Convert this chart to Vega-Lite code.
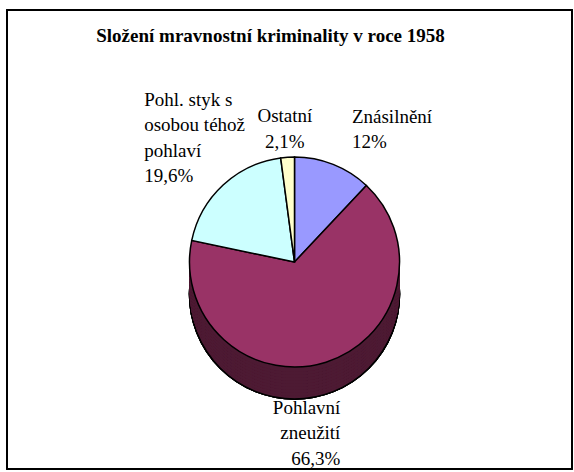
{
  "$schema": "https://vega.github.io/schema/vega-lite/v6.json",
  "width": 565,
  "height": 459,
  "autosize": {"type": "none"},
  "padding": {"left": 7, "top": 10, "right": 2, "bottom": 3},
  "background": "white",
  "title": {
    "text": "Složení mravnostní kriminality v roce 1958",
    "font": "Liberation Serif",
    "fontSize": 19,
    "fontWeight": "bold",
    "color": "black",
    "anchor": "middle",
    "frame": "group",
    "baseline": "middle",
    "offset": -46,
    "dx": -19
  },
  "data": {
    "values": [
      {"category": "Znásilnění", "value": 12, "order": 1, "label": "Znásilnění\n12%"},
      {"category": "Pohlavní zneužití", "value": 66.3, "order": 2, "label": "Pohlavní\nzneužití\n66,3%"},
      {"category": "Pohl. styk s osobou téhož pohlaví", "value": 19.6, "order": 3, "label": "Pohl. styk s\nosobou téhož\npohlaví\n19,6%"},
      {"category": "Ostatní", "value": 2.1, "order": 4, "label": "Ostatní\n2,1%"}
    ]
  },
  "layer": [
    {"mark": {"type": "rect", "fill": null, "fillOpacity": 0, "stroke": "black", "strokeWidth": 1.5}, "encoding": {}},
    {"mark": {"type": "arc", "outerRadius": 105, "theta": 0, "theta2": 6.2832, "fill": "#4d1a33", "stroke": "black", "strokeWidth": 1.5, "xOffset": 5, "yOffset": 54.5}, "encoding": {}},
    {"mark": {"type": "arc", "outerRadius": 105, "theta": 0, "theta2": 6.2832, "fill": "#4d1a33", "xOffset": 5, "yOffset": 51.5}, "encoding": {}},
    {"mark": {"type": "arc", "outerRadius": 105, "theta": 0, "theta2": 6.2832, "fill": "#4d1a33", "xOffset": 5, "yOffset": 48.5}, "encoding": {}},
    {"mark": {"type": "arc", "outerRadius": 105, "theta": 0, "theta2": 6.2832, "fill": "#4d1a33", "xOffset": 5, "yOffset": 45.5}, "encoding": {}},
    {"mark": {"type": "arc", "outerRadius": 105, "theta": 0, "theta2": 6.2832, "fill": "#4d1a33", "xOffset": 5, "yOffset": 42.5}, "encoding": {}},
    {"mark": {"type": "arc", "outerRadius": 105, "theta": 0, "theta2": 6.2832, "fill": "#4d1a33", "xOffset": 5, "yOffset": 39.5}, "encoding": {}},
    {"mark": {"type": "arc", "outerRadius": 105, "theta": 0, "theta2": 6.2832, "fill": "#4d1a33", "xOffset": 5, "yOffset": 36.5}, "encoding": {}},
    {"mark": {"type": "arc", "outerRadius": 105, "theta": 0, "theta2": 6.2832, "fill": "#4d1a33", "xOffset": 5, "yOffset": 33.5}, "encoding": {}},
    {"mark": {"type": "arc", "outerRadius": 105, "theta": 0, "theta2": 6.2832, "fill": "#4d1a33", "xOffset": 5, "yOffset": 30.5}, "encoding": {}},
    {"mark": {"type": "arc", "outerRadius": 105, "theta": 0, "theta2": 6.2832, "fill": "#4d1a33", "xOffset": 5, "yOffset": 27.5}, "encoding": {}},
    {
      "mark": {"type": "arc", "outerRadius": 105, "stroke": "black", "strokeWidth": 1.5, "xOffset": 5, "yOffset": 22.5},
      "encoding": {
        "theta": {"field": "value", "type": "quantitative", "stack": true},
        "order": {"field": "order", "type": "quantitative"},
        "color": {
          "field": "category",
          "type": "nominal",
          "scale": {
            "domain": ["Znásilnění", "Pohlavní zneužití", "Pohl. styk s osobou téhož pohlaví", "Ostatní"],
            "range": ["#9999ff", "#993366", "#ccffff", "#ffffcc"]
          },
          "legend": null
        }
      }
    },
    {
      "mark": {"type": "text", "radius": 156, "xOffset": 5, "yOffset": 22.5, "font": "Liberation Serif", "fontSize": 19, "color": "black", "lineBreak": "\n", "lineHeight": 25.5, "align": "left", "baseline": "middle"},
      "encoding": {
        "theta": {"field": "value", "type": "quantitative", "stack": true},
        "order": {"field": "order", "type": "quantitative"},
        "text": {"condition": {"test": "datum.order == 1", "field": "label"}, "value": ""}
      }
    },
    {
      "mark": {"type": "text", "radius": 153, "xOffset": 5, "yOffset": 22.5, "font": "Liberation Serif", "fontSize": 19, "color": "black", "lineBreak": "\n", "lineHeight": 25.5, "align": "right", "baseline": "middle"},
      "encoding": {
        "theta": {"field": "value", "type": "quantitative", "stack": true},
        "order": {"field": "order", "type": "quantitative"},
        "text": {"condition": {"test": "datum.order == 2", "field": "label"}, "value": ""}
      }
    },
    {
      "mark": {"type": "text", "radius": 221, "xOffset": 5, "yOffset": 22.5, "font": "Liberation Serif", "fontSize": 19, "color": "black", "lineBreak": "\n", "lineHeight": 25.5, "align": "left", "baseline": "middle"},
      "encoding": {
        "theta": {"field": "value", "type": "quantitative", "stack": true},
        "order": {"field": "order", "type": "quantitative"},
        "text": {"condition": {"test": "datum.order == 3", "field": "label"}, "value": ""}
      }
    },
    {
      "mark": {"type": "text", "radius": 146, "xOffset": 5, "yOffset": 22.5, "font": "Liberation Serif", "fontSize": 19, "color": "black", "lineBreak": "\n", "lineHeight": 25.5, "align": "center", "baseline": "middle"},
      "encoding": {
        "theta": {"field": "value", "type": "quantitative", "stack": true},
        "order": {"field": "order", "type": "quantitative"},
        "text": {"condition": {"test": "datum.order == 4", "field": "label"}, "value": ""}
      }
    }
  ],
  "config": {
    "font": "Liberation Serif",
    "text": {"font": "Liberation Serif"},
    "view": {"stroke": null}
  }
}
